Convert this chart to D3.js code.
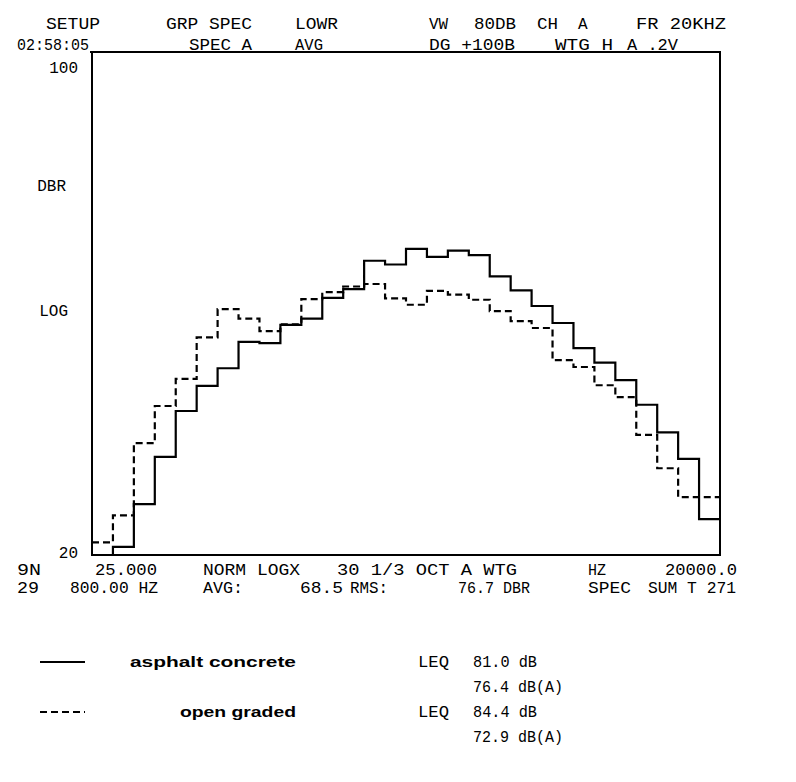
<!DOCTYPE html>
<html>
<head>
<meta charset="utf-8">
<script src="https://cdn.jsdelivr.net/npm/d3@7"></script>
<style>
  body { margin: 0; background: #fff; }
  svg { display: block; background: #fff; }
  text { fill: #000; }
  .mono { font-family: "Liberation Mono", "DejaVu Sans Mono", monospace; font-size: 16px; }
  .legend-name { font-family: "Liberation Sans", Arial, sans-serif; font-weight: bold; font-size: 15px; }
</style>
</head>
<body>
<svg id="chart" width="796" height="782"></svg>
<script>
// Third-octave band centre frequencies, 25 Hz .. 20 kHz (30 bands)
const bands = ["25", "31.5", "40", "50", "63", "80", "100", "125", "160", "200",
  "250", "315", "400", "500", "630", "800", "1000", "1250", "1600", "2000",
  "2500", "3150", "4000", "5000", "6300", "8000", "10000", "12500", "16000", "20000"];

// Band levels, dB (A-weighted analyser display)
const asphaltConcrete = [20.0, 21.3, 28.1, 35.6, 42.9, 46.9, 49.7, 53.9, 53.7, 56.6,
  57.6, 60.9, 62.3, 66.8, 66.2, 68.7, 67.4, 68.4, 67.7, 64.3,
  62.1, 59.6, 56.9, 52.9, 50.6, 47.8, 43.9, 39.5, 35.3, 25.7];
const openGraded = [22.0, 26.3, 37.8, 43.7, 48.0, 54.6, 59.1, 57.6, 55.6, 56.7,
  60.7, 61.8, 62.7, 63.1, 60.8, 59.8, 62.0, 61.4, 60.6, 58.8,
  57.2, 56.1, 51.0, 49.9, 47.0, 45.1, 39.1, 33.8, 29.2, 29.2];

// Vertical display range and its labels
const levelRange = [20, 100];
const yTickValues = [100, 80, 60, 20];
const yTickLabels = ["100", "DBR", "LOG", "20"];

// Analyser status lines
const headerTop = ["SETUP", "GRP SPEC", "LOWR", "VW", "80DB", "CH", "A", "FR 20KHZ"];
const headerBottom = ["02:58:05", "SPEC A", "AVG", "DG +100B", "WTG H", "A .2V"];
const footerTop = ["9N", "25.000", "NORM LOGX", "30 1/3 OCT A WTG", "HZ", "20000.0"];
const footerBottom = ["29", "800.00 HZ", "AVG:", "68.5", "RMS:", "76.7 DBR", "SPEC", "SUM T 271"];

// Legend
const seriesNames = ["asphalt concrete", "open graded"];
const leqLabel = "LEQ";
const leqDb = [81.0, 84.4];
const leqDbA = [76.4, 72.9];

// ---------------------------------------------------------------------------
const svg = d3.select("#chart");
const frame = { left: 92, right: 720, top: 52, bottom: 555 };

const x = d3.scaleBand().domain(bands).range([frame.left, frame.right]).padding(0);
const y = d3.scaleLinear().domain(levelRange).range([frame.bottom, frame.top]).clamp(true);

// plot frame
svg.append("path")
  .attr("d", `M${frame.left - 2},${frame.top}H${frame.right}V${frame.bottom}H${frame.left}V${frame.top}`)
  .attr("fill", "none").attr("stroke", "#000").attr("stroke-width", 2);

// y labels drawn through a left axis with no tick marks
const yLabelShift = { "100": 15, "DBR": 8, "LOG": 7, "20": -3 };
const yAxis = d3.axisLeft(y)
  .tickValues(yTickValues)
  .tickSize(0)
  .tickPadding(14)
  .tickFormat((d, i) => yTickLabels[i]);
const gy = svg.append("g").attr("transform", `translate(${frame.left},0)`).call(yAxis);
gy.select(".domain").remove();
gy.selectAll("text")
  .attr("class", "mono")
  .attr("font-size", null).attr("font-family", null)
  .attr("dy", function (d, i) { return (yLabelShift[yTickLabels[i]] + 5) + "px"; })
  .attr("dx", (d, i) => (yTickLabels[i] === "DBR" ? -12 : yTickLabels[i] === "LOG" ? -10 : 0));

// stepped spectra
function stepPoints(values) {
  const pts = [];
  bands.forEach((b, i) => {
    pts.push([x(b), y(values[i])]);
    pts.push([x(b) + x.bandwidth(), y(values[i])]);
  });
  return pts;
}
const line = d3.line();
svg.append("path")
  .attr("d", line(stepPoints(asphaltConcrete)))
  .attr("fill", "none").attr("stroke", "#000").attr("stroke-width", 2.2)
  .attr("stroke-linejoin", "miter");
svg.append("path")
  .attr("d", line(stepPoints(openGraded)))
  .attr("fill", "none").attr("stroke", "#000").attr("stroke-width", 2.2)
  .attr("stroke-dasharray", "7,4");

// status text helper
function put(str, px, py, len, cls) {
  const t = svg.append("text").attr("class", cls || "mono")
    .attr("x", px).attr("y", py).text(str);
  if (len) t.attr("textLength", len).attr("lengthAdjust", "spacingAndGlyphs");
  return t;
}

const headerTopPos = [[46, 54], [166, 86], [295, 43], [429, 19], [474, 42], [537, 21], [578, 0], [636, 90]];
headerTop.forEach((s, i) => put(s, headerTopPos[i][0], 29, headerTopPos[i][1]));
const headerBottomPos = [[17, 72], [189, 63], [295, 28], [429, 86], [555, 58], [627, 51]];
headerBottom.forEach((s, i) => put(s, headerBottomPos[i][0], 50, headerBottomPos[i][1]));

const footerTopPos = [[17, 24], [95, 62], [203, 97], [337, 180], [588, 18], [665, 72]];
footerTop.forEach((s, i) => put(s, footerTopPos[i][0], 575, footerTopPos[i][1]));
const footerBottomPos = [[17, 22], [70, 88], [203, 40], [300, 43], [350, 38], [458, 72], [588, 43], [648, 88]];
footerBottom.forEach((s, i) => put(s, footerBottomPos[i][0], 593, footerBottomPos[i][1]));

// legend
const legendRows = [667, 717];
const nameBox = [[130, 166], [180, 116]];
seriesNames.forEach((name, i) => {
  const ly = legendRows[i];
  svg.append("line")
    .attr("x1", 40).attr("x2", 85).attr("y1", ly - 5).attr("y2", ly - 5)
    .attr("stroke", "#000").attr("stroke-width", 1.8)
    .attr("stroke-dasharray", i === 1 ? "7,4" : null);
  put(name, nameBox[i][0], ly, nameBox[i][1], "legend-name");
  put(leqLabel, 418, ly, 31);
  put(d3.format(".1f")(leqDb[i]) + " dB", 473, ly, 64);
  put(d3.format(".1f")(leqDbA[i]) + " dB(A)", 473, ly + 25, 90);
});
</script>
</body>
</html>
